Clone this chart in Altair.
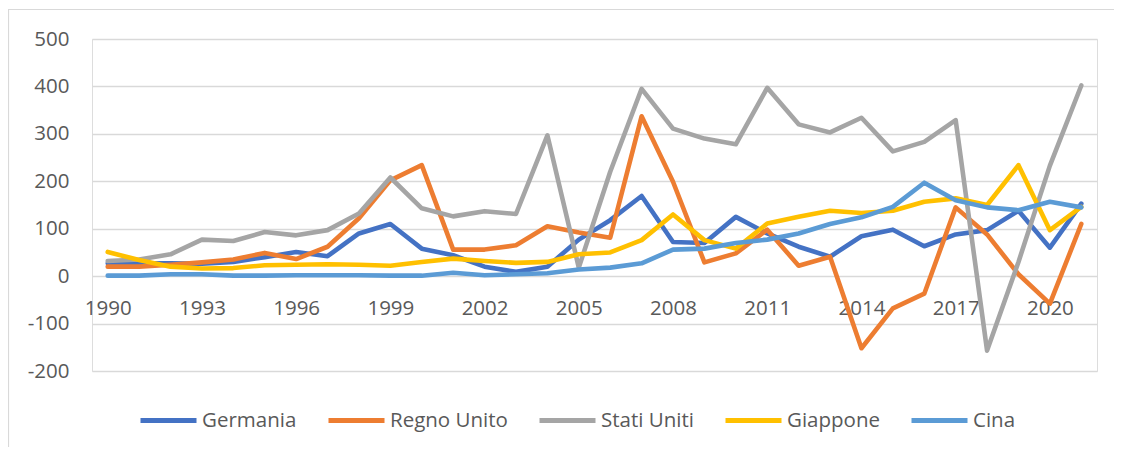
import altair as alt
import pandas as pd

years = [str(y) for y in range(1990, 2022)]
series_names = ["Germania", "Regno Unito", "Stati Uniti", "Giappone", "Cina"]
colors = ["#4472C4", "#ED7D31", "#A5A5A5", "#FFC000", "#5B9BD5"]

germania = [27, 27, 27, 26, 30, 40, 51, 42, 90, 110, 58, 44, 20, 9, 20, 77,
            118, 169, 72, 70, 125, 90, 62, 41, 84, 98, 63, 88, 97, 138, 60, 153]
regno_unito = [20, 20, 24, 29, 35, 49, 36, 62, 122, 202, 234, 56, 56, 65, 105, 92,
               81, 337, 199, 29, 48, 98, 22, 41, -152, -68, -37, 145, 88, 4, -58, 110]
stati_uniti = [32, 35, 46, 77, 74, 93, 86, 97, 132, 208, 143, 126, 137, 131, 297, 18,
               220, 395, 311, 290, 278, 397, 320, 303, 334, 263, 283, 329, -157, 30, 233, 402]
giappone = [51, 34, 20, 16, 17, 23, 24, 25, 24, 22, 30, 37, 32, 28, 30, 46,
            50, 76, 130, 76, 58, 111, 125, 138, 133, 138, 157, 164, 150, 234, 97, 146]
cina = [1, 1, 4, 4, 1, 1, 2, 2, 2, 1, 1, 7, 2, 4, 6, 14,
        18, 27, 56, 58, 70, 77, 90, 110, 124, 146, 197, 160, 145, 139, 157, 145]

x_label_years = [str(y) for y in range(1990, 2022, 3)]
y_ticks = [500, 400, 300, 200, 100, 0, -100, -200]

values = {"Germania": germania, "Regno Unito": regno_unito, "Stati Uniti": stati_uniti,
          "Giappone": giappone, "Cina": cina}
rows = []
for name in series_names:
    for yr, v in zip(years, values[name]):
        rows.append({"anno": yr, "valore": v, "serie": name})
df = pd.DataFrame(rows)

FONT = "Open Sans"
FS = 20.5
LABEL_COLOR = "#595959"

x_enc = alt.X("anno:O", sort=years,
              scale=alt.Scale(type="point", padding=0.5),
              axis=alt.Axis(values=x_label_years, labelAngle=0, title=None,
                            domain=False, ticks=False, grid=False, offset=-95,
                            labelPadding=22, labelFontSize=FS, labelFont=FONT,
                            labelColor=LABEL_COLOR))
y_enc = alt.Y("valore:Q",
              scale=alt.Scale(domain=[-200, 500], nice=False, zero=False),
              axis=alt.Axis(values=y_ticks, title=None, domain=False, ticks=False,
                            grid=True, gridColor="#D9D9D9", gridWidth=1.3,
                            labelExpr="'' + datum.value",
                            labelPadding=23, labelFontSize=FS, labelFont=FONT,
                            labelColor=LABEL_COLOR))
color_enc = alt.Color("serie:N",
                      scale=alt.Scale(domain=series_names, range=colors),
                      legend=alt.Legend(title=None, orient="none", direction="horizontal",
                                        legendX=46, legendY=351,
                                        symbolType="stroke", symbolSize=3136,
                                        symbolStrokeWidth=5, labelFont=FONT,
                                        labelFontSize=FS, labelColor=LABEL_COLOR,
                                        labelOffset=3, columnPadding=21))

layers = []
for name in series_names:
    layers.append(
        alt.Chart(df).transform_filter(alt.datum.serie == name)
        .mark_line(strokeWidth=4.6, strokeJoin="round", strokeCap="round")
        .encode(x=x_enc, y=y_enc, color=color_enc)
    )

border = alt.Chart(alt.Data(values=[{"b": 1}])).mark_rect(
    fill=None, stroke="#D9D9D9", strokeWidth=1.2, clip=False
).encode(x=alt.value(-83.5), x2=alt.value(1200), y=alt.value(-29.5), y2=alt.value(600))

chart = alt.layer(border, *layers).properties(
    width=1005, height=332,
    autosize=alt.AutoSizeParams(type="none"),
    padding={"left": 84, "top": 31, "right": 17, "bottom": 76},
).configure_view(stroke=None).configure(background="white")

chart.save("out.html", embed_options={"renderer": "svg", "actions": False})
